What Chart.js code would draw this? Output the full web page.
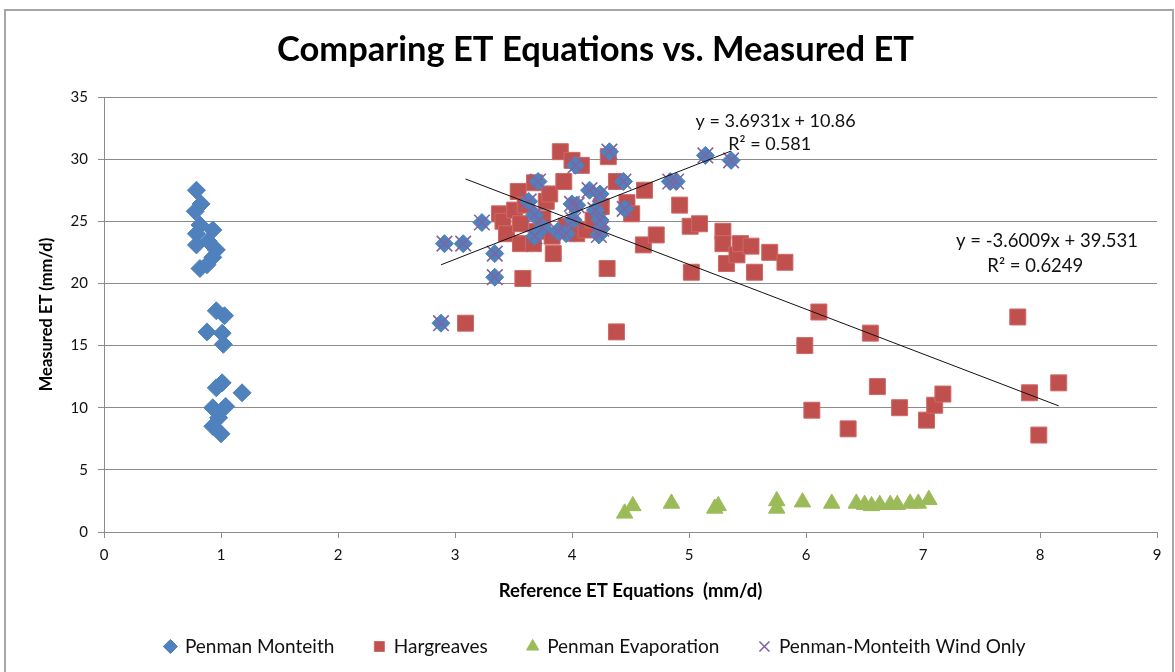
<!DOCTYPE html>
<html>
<head>
<meta charset="utf-8">
<script src="https://cdn.jsdelivr.net/npm/chart.js@4/dist/chart.umd.min.js"></script>
<style>
  html, body { margin: 0; padding: 0; background: #fff; }
  #wrap { position: relative; width: 1175px; height: 672px; overflow: hidden; }
  #frame { position: absolute; left: 4px; top: 9px; width: 1166px; height: 700px; border: 2px solid #a6a6a6; pointer-events: none; }
  canvas { display: block; }
</style>
</head>
<body>
<div id="wrap">
  <canvas id="c" width="1175" height="672"></canvas>
  <div id="frame"></div>
</div>
<script>
// ---------- DATA ----------
const chartTitle = 'Comparing ET Equations vs. Measured ET';
const xAxisTitle = 'Reference ET Equations  (mm/d)';
const yAxisTitle = 'Measured ET (mm/d)';
const seriesNames = ['Penman Monteith', 'Hargreaves', 'Penman Evaporation', 'Penman-Monteith Wind Only'];

const penmanMonteith = [
  [0.79,27.5],[0.83,26.4],[0.78,25.8],[0.82,24.7],[0.93,24.3],[0.79,24.0],[0.89,23.4],[0.79,23.1],
  [0.96,22.7],[0.93,22.1],[0.82,21.2],[0.88,21.5],[0.96,17.8],[1.03,17.4],[0.88,16.1],[1.01,16.0],
  [1.02,15.1],[1.01,12.0],[1.18,11.2],[0.96,11.6],[0.93,10.0],[1.04,10.1],[0.98,9.2],[0.93,8.5],[1.00,7.9]
];

const hargreaves = [
  [3.09,16.8],[3.38,25.6],[3.41,25.0],[3.44,24.0],[3.51,25.9],[3.54,27.4],[3.56,24.8],[3.56,23.2],
  [3.58,20.4],[3.60,26.3],[3.67,23.2],[3.68,28.1],[3.70,24.2],[3.75,25.2],[3.78,26.6],[3.81,27.2],
  [3.83,23.8],[3.84,22.4],[3.90,30.6],[3.93,28.2],[3.95,24.6],[4.00,29.9],[4.04,24.0],[4.08,29.5],
  [4.12,24.3],[4.18,25.1],[4.25,26.2],[4.30,21.2],[4.31,30.2],[4.38,28.2],[4.38,16.1],[4.47,26.5],
  [4.51,25.6],[4.61,23.1],[4.62,27.5],[4.72,23.9],[4.92,26.3],[5.01,24.6],[5.02,20.9],[5.09,24.8],
  [5.29,24.2],[5.29,23.2],[5.32,21.6],[5.41,22.3],[5.44,23.2],[5.53,23.0],[5.56,20.9],[5.69,22.5],
  [5.82,21.7],[5.99,15.0],[6.05,9.8],[6.11,17.7],[6.36,8.3],[6.55,16.0],[6.61,11.7],[6.80,10.0],
  [7.03,9.0],[7.10,10.2],[7.17,11.1],[7.81,17.3],[7.91,11.2],[7.99,7.8],[8.16,12.0]
];

const penmanEvaporation = [
  [4.45,1.5],[4.52,2.1],[4.85,2.3],[5.22,1.9],[5.25,2.1],[5.75,2.5],[5.75,1.9],[5.97,2.4],[6.22,2.3],
  [6.43,2.3],[6.50,2.2],[6.56,2.1],[6.63,2.2],[6.72,2.2],[6.78,2.2],[6.89,2.3],[6.96,2.3],[7.05,2.6]
];

const windOnly = [
  [2.88,16.8],[2.91,23.2],[3.07,23.2],[3.23,24.9],[3.34,22.4],[3.34,20.5],[3.63,26.6],[3.68,25.5],
  [3.71,28.2],[3.68,23.8],[3.75,24.5],[3.88,24.2],[3.95,24.0],[4.00,26.4],[4.04,26.3],[4.03,29.5],
  [4.01,25.1],[4.15,27.5],[4.24,27.2],[4.20,25.9],[4.24,25.1],[4.25,24.4],[4.23,23.9],[4.32,30.6],
  [4.45,26.0],[4.44,28.2],[4.84,28.2],[4.89,28.2],[5.14,30.3],[5.36,29.9]
];

// trendline equations shown on the chart: [slope, intercept, R²]
const windTrend = [3.6931, 10.86, 0.581];
const hargTrend = [-3.6009, 39.531, 0.6249];

const xTicks = [0,1,2,3,4,5,6,7,8,9];
const yTicks = [0,5,10,15,20,25,30,35];

// ---------- HELPERS ----------
const toXY = arr => arr.map(p => ({x: p[0], y: p[1]}));
function trendPoints(series, coef) {
  const xs = series.map(p => p[0]);
  const x0 = Math.min(...xs), x1 = Math.max(...xs);
  return [{x: x0, y: coef[0]*x0 + coef[1]}, {x: x1, y: coef[0]*x1 + coef[1]}];
}
const eqText = coef => 'y = ' + coef[0] + 'x + ' + coef[1];

const FONT = 'Lato, "Open Sans", sans-serif';
const BLUE = '#4F81BD', RED = '#C0504D', GREEN = '#9BBB59', PURPLE = '#8064A2';

const trendLabels = {
  id: 'trendLabels',
  afterDatasetsDraw(chart) {
    const ctx = chart.ctx, xs = chart.scales.x, ys = chart.scales.y;
    ctx.save();
    ctx.fillStyle = '#111';
    ctx.font = '18px ' + FONT;
    ctx.textAlign = 'center';
    ctx.textBaseline = 'middle';
    ctx.fillText(eqText(windTrend), xs.getPixelForValue(5.74), ys.getPixelForValue(33.05));
    ctx.fillText('R² = ' + windTrend[2], xs.getPixelForValue(5.69), ys.getPixelForValue(31.2));
    ctx.font = '18.5px ' + FONT;
    ctx.fillText(eqText(hargTrend), xs.getPixelForValue(8.06), ys.getPixelForValue(23.4));
    ctx.fillText('R² = ' + hargTrend[2], xs.getPixelForValue(7.96), ys.getPixelForValue(21.4));
    ctx.restore();
  }
};

const LAYOUT_BOTTOM = 6, LAYOUT_LEFT = 16, RIGHT_GAP = 18;
const PLOT_LEFT = 104, PLOT_BOTTOM = 532;

new Chart(document.getElementById('c'), {
  type: 'scatter',
  data: {
    datasets: [
      { label: seriesNames[0], data: toXY(penmanMonteith), pointStyle: 'rectRot', pointRadius: 9,
        backgroundColor: BLUE, borderColor: BLUE, borderWidth: 1, order: 5 },
      { label: seriesNames[1], data: toXY(hargreaves), pointStyle: 'rect', pointRadius: 11.3,
        backgroundColor: RED, borderColor: '#CD6A67', borderWidth: 1, order: 4 },
      { label: seriesNames[2], data: toXY(penmanEvaporation), pointStyle: 'triangle', pointRadius: 9.5,
        backgroundColor: GREEN, borderColor: GREEN, borderWidth: 1, order: 3 },
      { label: seriesNames[3], data: toXY(windOnly), pointStyle: 'crossRot', pointRadius: 11,
        backgroundColor: PURPLE, borderColor: PURPLE, borderWidth: 1.6, order: 1 },
      { label: '_windMarker', data: toXY(windOnly), pointStyle: 'rectRot', pointRadius: 9,
        backgroundColor: BLUE, borderColor: BLUE, borderWidth: 1, order: 2 },
      { label: '_trendWind', type: 'line', data: trendPoints(windOnly, windTrend), borderColor: '#111',
        borderWidth: 1, pointRadius: 0, fill: false, order: 0 },
      { label: '_trendHarg', type: 'line', data: trendPoints(hargreaves, hargTrend), borderColor: '#111',
        borderWidth: 1, pointRadius: 0, fill: false, order: 0 }
    ]
  },
  options: {
    responsive: false,
    animation: false,
    layout: { padding: { left: LAYOUT_LEFT, right: 0, top: 0, bottom: LAYOUT_BOTTOM } },
    plugins: {
      tooltip: { enabled: false },
      title: {
        display: true, text: chartTitle, color: '#000',
        font: { family: FONT, size: 34.5, weight: 'bold' },
        padding: { top: 29.3, bottom: 26.3 }
      },
      legend: {
        position: 'bottom',
        labels: {
          usePointStyle: true, boxWidth: 10, boxHeight: 10, padding: 40,
          color: '#111', font: { family: FONT, size: 19 },
          filter: item => !item.text.startsWith('_'),
          sort: (a, b) => a.datasetIndex - b.datasetIndex
        }
      }
    },
    scales: {
      x: {
        type: 'linear', min: 0, max: 9,
        afterFit: s => {
          const lh = s.chart.legend ? s.chart.legend.height : 69;
          s.height = s.chart.height - LAYOUT_BOTTOM - lh - PLOT_BOTTOM;
          s.paddingRight = RIGHT_GAP;
        },
        afterBuildTicks: s => { s.ticks = xTicks.map(v => ({value: v})); },
        ticks: { color: '#111', font: { family: FONT, size: 15 }, padding: 8 },
        grid: { drawOnChartArea: false, drawTicks: true, tickLength: 6, color: '#8c8c8c' },
        border: { color: '#8c8c8c', width: 1 },
        title: { display: true, text: xAxisTitle, color: '#000',
          font: { family: FONT, size: 18.5, weight: 'bold', lineHeight: 0.65 }, padding: { top: 0, bottom: 0 } }
      },
      y: {
        type: 'linear', min: 0, max: 35,
        afterFit: s => { s.width = PLOT_LEFT - LAYOUT_LEFT; },
        afterBuildTicks: s => { s.ticks = yTicks.map(v => ({value: v})); },
        ticks: { color: '#111', font: { family: FONT, size: 15 }, padding: 10 },
        grid: { drawOnChartArea: true, drawTicks: true, tickLength: 6, color: '#8c8c8c' },
        border: { color: '#8c8c8c', width: 1 },
        title: { display: true, text: yAxisTitle, color: '#000',
          font: { family: FONT, size: 16.5, weight: 'bold' }, padding: { top: 21, bottom: 0 } }
      }
    }
  },
  plugins: [trendLabels]
});
</script>
</body>
</html>
